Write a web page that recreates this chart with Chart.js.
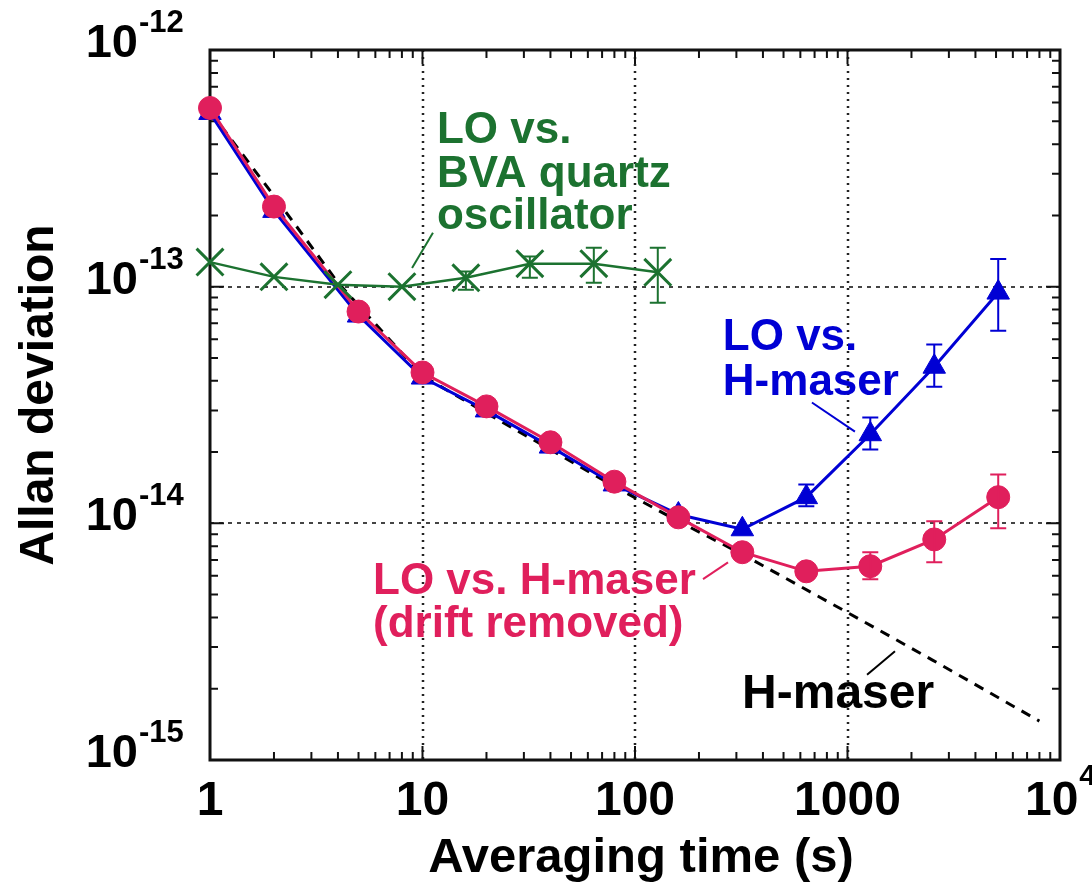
<!DOCTYPE html>
<html>
<head>
<meta charset="utf-8">
<title>Allan deviation</title>
<script src="https://cdn.jsdelivr.net/npm/chart.js@4.4.1/dist/chart.umd.min.js"></script>
<style>
  html, body { margin: 0; padding: 0; background: #fff; }
  canvas { display: block; }
</style>
</head>
<body>
<canvas id="allanChart" width="1092" height="882"></canvas>
<script>
// averaging times (s)
const tauLO = [1, 2, 5, 10, 20, 40, 80, 160, 320, 640, 1280, 2560, 5120];
const tauBVA = [1, 2, 4, 8, 16, 32, 64, 128];
const tauMaser = [1, 2, 4, 10, 20, 40, 80, 160, 320, 1000, 2500, 8000];

// LO vs. H-maser (blue triangles)
const loMaser = [5.42e-13, 2.09e-13, 7.55e-14, 4.13e-14, 3.0e-14, 2.11e-14, 1.46e-14, 1.09e-14, 9.44e-15, 1.29e-14, 2.38e-14, 4.59e-14, 9.44e-14];
const loMaserLow = [null, null, null, null, null, null, null, null, null, 1.18e-14, 2.05e-14, 3.78e-14, 6.52e-14];
const loMaserHigh = [null, null, null, null, null, null, null, null, null, 1.46e-14, 2.80e-14, 5.69e-14, 1.31e-13];

// LO vs. H-maser, drift removed (pink circles)
const loDrift = [5.69e-13, 2.18e-13, 7.85e-14, 4.34e-14, 3.12e-14, 2.2e-14, 1.5e-14, 1.06e-14, 7.55e-15, 6.27e-15, 6.59e-15, 8.55e-15, 1.29e-14];
const loDriftLow = [null, null, null, null, null, null, null, null, null, null, 5.81e-15, 6.84e-15, 9.53e-15];
const loDriftHigh = [null, null, null, null, null, null, null, null, null, null, 7.55e-15, 1.02e-14, 1.61e-14];

// LO vs. BVA quartz oscillator (green crosses)
const loBVA = [1.27e-13, 1.10e-13, 1.02e-13, 1.0e-13, 1.09e-13, 1.25e-13, 1.25e-13, 1.15e-13];
const loBVALow = [null, null, null, null, 9.7e-14, 1.09e-13, 1.04e-13, 8.55e-14];
const loBVAHigh = [null, null, null, null, 1.16e-13, 1.34e-13, 1.46e-13, 1.46e-13];

// H-maser reference (dashed)
const hMaser = [5.5e-13, 2.42e-13, 1.04e-13, 4.2e-14, 2.92e-14, 2.05e-14, 1.43e-14, 1.02e-14, 7.4e-15, 4.2e-15, 2.65e-15, 1.46e-15];

// axis labels
const xTicks = [1, 10, 100, 1000, 10000];
const xTickBase = ['1', '10', '100', '1000', '10'];
const xTickExp = ['', '', '', '', '4'];
const yTicks = [1e-12, 1e-13, 1e-14, 1e-15];
const yTickBase = ['10', '10', '10', '10'];
const yTickExp = ['-12', '-13', '-14', '-15'];

const GREEN = '#1c7230';
const BLUE = '#0000d4';
const PINK = '#e01f5c';
const FONT = '"Liberation Sans", Arial, Helvetica, sans-serif';

// labels in the plot, anchored in data units (left / baseline)
const notes = [
    { text: 'LO vs.', x: 11.7, y: 4.06e-13, color: GREEN, size: 44 },
    { text: 'BVA quartz', x: 11.7, y: 2.64e-13, color: GREEN, size: 44 },
    { text: 'oscillator', x: 11.7, y: 1.76e-13, color: GREEN, size: 44 },
    { text: 'LO vs.', x: 259, y: 5.42e-14, color: BLUE, size: 44 },
    { text: 'H-maser', x: 259, y: 3.50e-14, color: BLUE, size: 44 },
    { text: 'LO vs. H-maser', x: 5.85, y: 5.01e-15, color: PINK, size: 44 },
    { text: '(drift removed)', x: 5.85, y: 3.30e-15, color: PINK, size: 44 },
    { text: 'H-maser', x: 319, y: 1.66e-15, color: '#000', size: 48 }
];
// leader lines from labels to curves
const leaders = [
    { x1: 8.93, y1: 1.2e-13, x2: 11.2, y2: 1.69e-13, color: GREEN },
    { x1: 680, y1: 3.24e-14, x2: 1084, y2: 2.44e-14, color: BLUE },
    { x1: 209, y1: 5.81e-15, x2: 274, y2: 6.84e-15, color: PINK },
    { x1: 1236, y1: 2.29e-15, x2: 1673, y2: 2.88e-15, color: '#000' }
];

function pairs(xs, ys) {
    return xs.map((x, i) => ({ x: x, y: ys[i] }));
}

function drawBars(ctx, x, y, xs, lows, highs, color) {
    ctx.save();
    ctx.strokeStyle = color;
    ctx.lineWidth = 2;
    xs.forEach((t, i) => {
        if (lows[i] == null) return;
        const px = x.getPixelForValue(t);
        const p1 = y.getPixelForValue(lows[i]);
        const p2 = y.getPixelForValue(highs[i]);
        ctx.beginPath();
        ctx.moveTo(px, p1); ctx.lineTo(px, p2);
        ctx.moveTo(px - 8, p1); ctx.lineTo(px + 8, p1);
        ctx.moveTo(px - 8, p2); ctx.lineTo(px + 8, p2);
        ctx.stroke();
    });
    ctx.restore();
}

// minor tick values 2..9 x 10^n between min and max
function minorValues(min, max) {
    const out = [];
    for (let d = min; d < max; d *= 10) {
        for (let k = 2; k <= 9; k++) out.push(d * k);
    }
    return out;
}

const framePlugin = {
    id: 'frame',
    beforeDatasetsDraw(chart) {
        const { ctx, chartArea: a, scales: { x, y } } = chart;
        ctx.save();
        // dotted grid at decades
        ctx.lineWidth = 2.5;
        ctx.strokeStyle = '#222';
        ctx.setLineDash([2, 5]);
        [10, 100, 1000].forEach(t => {
            const px = Math.round(x.getPixelForValue(t));
            ctx.beginPath(); ctx.moveTo(px, a.top); ctx.lineTo(px, a.bottom); ctx.stroke();
        });
        ctx.lineWidth = 2;
        ctx.strokeStyle = '#444';
        ctx.setLineDash([4, 5]);
        [1e-13, 1e-14].forEach(v => {
            const py = Math.round(y.getPixelForValue(v));
            ctx.beginPath(); ctx.moveTo(a.left, py); ctx.lineTo(a.right, py); ctx.stroke();
        });
        ctx.setLineDash([]);

        // frame
        ctx.strokeStyle = '#111';
        ctx.lineWidth = 3;
        ctx.strokeRect(a.left, a.top, a.right - a.left, a.bottom - a.top);

        // inward ticks on all four sides
        ctx.lineWidth = 2;
        minorValues(1, 10000).forEach(t => {
            const px = x.getPixelForValue(t);
            ctx.beginPath();
            ctx.moveTo(px, a.bottom); ctx.lineTo(px, a.bottom - 8);
            ctx.moveTo(px, a.top); ctx.lineTo(px, a.top + 8);
            ctx.stroke();
        });
        xTicks.forEach(t => {
            const px = x.getPixelForValue(t);
            ctx.beginPath();
            ctx.moveTo(px, a.bottom); ctx.lineTo(px, a.bottom - 14);
            ctx.moveTo(px, a.top); ctx.lineTo(px, a.top + 14);
            ctx.stroke();
        });
        minorValues(1e-15, 1e-12).forEach(v => {
            const py = y.getPixelForValue(v);
            ctx.beginPath();
            ctx.moveTo(a.left, py); ctx.lineTo(a.left + 8, py);
            ctx.moveTo(a.right, py); ctx.lineTo(a.right - 8, py);
            ctx.stroke();
        });
        yTicks.forEach(v => {
            const py = y.getPixelForValue(v);
            ctx.beginPath();
            ctx.moveTo(a.left, py); ctx.lineTo(a.left + 14, py);
            ctx.moveTo(a.right, py); ctx.lineTo(a.right - 14, py);
            ctx.stroke();
        });

        // tick labels
        ctx.fillStyle = '#000';
        ctx.textBaseline = 'alphabetic';
        xTicks.forEach((t, i) => {
            const px = x.getPixelForValue(t);
            ctx.font = 'bold 48px ' + FONT;
            const wb = ctx.measureText(xTickBase[i]).width;
            ctx.font = 'bold 30px ' + FONT;
            const we = xTickExp[i] ? ctx.measureText(xTickExp[i]).width : 0;
            const left = px - (wb + we) / 2;
            ctx.font = 'bold 48px ' + FONT;
            ctx.textAlign = 'left';
            ctx.fillText(xTickBase[i], left, a.bottom + 55);
            if (we) {
                ctx.font = 'bold 30px ' + FONT;
                ctx.fillText(xTickExp[i], left + wb + 1, a.bottom + 25);
            }
        });
        yTicks.forEach((v, i) => {
            const py = y.getPixelForValue(v);
            ctx.textAlign = 'right';
            ctx.font = 'bold 47px ' + FONT;
            ctx.fillText(yTickBase[i], a.left - 72, py + 7);
            ctx.textAlign = 'left';
            ctx.font = 'bold 31px ' + FONT;
            ctx.fillText(yTickExp[i], a.left - 71, py - 18);
        });

        // axis titles
        ctx.font = 'bold 49px ' + FONT;
        ctx.textAlign = 'center';
        ctx.fillText('Averaging time (s)', (a.left + a.right) / 2 + 6, 872);
        ctx.save();
        ctx.translate(53, 395);
        ctx.rotate(-Math.PI / 2);
        ctx.font = 'bold 48px ' + FONT;
        ctx.fillText('Allan deviation', 0, 0);
        ctx.restore();
        ctx.restore();
    },
    afterDatasetsDraw(chart) {
        const { ctx, scales: { x, y } } = chart;
        drawBars(ctx, x, y, tauLO, loMaserLow, loMaserHigh, BLUE);
        drawBars(ctx, x, y, tauLO, loDriftLow, loDriftHigh, PINK);
        drawBars(ctx, x, y, tauBVA, loBVALow, loBVAHigh, GREEN);

        ctx.save();
        ctx.lineWidth = 2;
        leaders.forEach(l => {
            ctx.strokeStyle = l.color;
            ctx.beginPath();
            ctx.moveTo(x.getPixelForValue(l.x1), y.getPixelForValue(l.y1));
            ctx.lineTo(x.getPixelForValue(l.x2), y.getPixelForValue(l.y2));
            ctx.stroke();
        });
        ctx.textAlign = 'left';
        ctx.textBaseline = 'alphabetic';
        notes.forEach(n => {
            ctx.fillStyle = n.color;
            ctx.font = 'bold ' + n.size + 'px ' + FONT;
            ctx.fillText(n.text, x.getPixelForValue(n.x), y.getPixelForValue(n.y));
        });
        ctx.restore();
    }
};

const ctx = document.getElementById('allanChart').getContext('2d');
const allanChart = new Chart(ctx, {
    type: 'line',
    data: {
        datasets: [{
            label: 'LO vs. BVA quartz oscillator',
            data: pairs(tauBVA, loBVA),
            borderColor: GREEN,
            backgroundColor: GREEN,
            borderWidth: 2.5,
            pointStyle: 'crossRot',
            pointRadius: 19,
            pointBorderWidth: 3,
            clip: false,
            order: 0
        }, {
            label: 'LO vs. H-maser (drift removed)',
            data: pairs(tauLO, loDrift),
            borderColor: PINK,
            backgroundColor: PINK,
            borderWidth: 3,
            pointStyle: 'circle',
            pointRadius: 11.5,
            pointBorderWidth: 1,
            clip: false,
            order: 1
        }, {
            label: 'LO vs. H-maser',
            data: pairs(tauLO, loMaser),
            borderColor: BLUE,
            backgroundColor: BLUE,
            borderWidth: 3,
            pointStyle: 'triangle',
            pointRadius: 13,
            pointBorderWidth: 1,
            clip: false,
            order: 2
        }, {
            label: 'H-maser',
            data: pairs(tauMaser, hMaser),
            borderColor: '#000',
            borderWidth: 3,
            borderDash: [10, 8],
            pointRadius: 0,
            clip: false,
            order: 3
        }]
    },
    options: {
        responsive: false,
        animation: false,
        layout: { padding: { left: 210, right: 32, top: 50, bottom: 122 } },
        scales: {
            x: { type: 'logarithmic', min: 1, max: 10000, display: false },
            y: { type: 'logarithmic', min: 1e-15, max: 1e-12, display: false }
        },
        elements: { line: { tension: 0 } },
        plugins: { legend: { display: false }, tooltip: { enabled: false } }
    },
    plugins: [framePlugin]
});
</script>
</body>
</html>
